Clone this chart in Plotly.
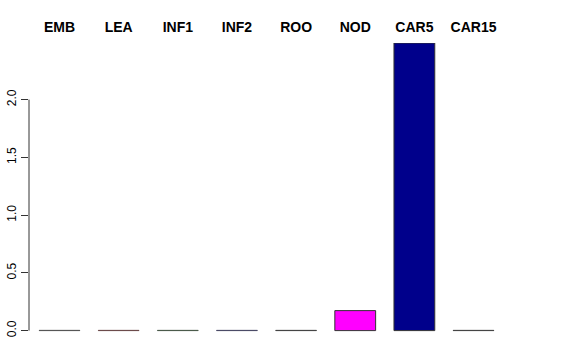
import plotly.graph_objects as go

categories = ["EMB", "LEA", "INF1", "INF2", "ROO", "NOD", "CAR5", "CAR15"]
values = [0.002, 0.002, 0.002, 0.002, 0.002, 0.173, 2.49, 0.002]
fill_colors = ["#555555", "#7a4a4a", "#4a6a4a", "#4a4a7a", "#555555", "#FF00FF", "#00008B", "#555555"]
line_colors = ["#555555", "#6b4a4a", "#4a5a4a", "#4a4a66", "#444444", "#333333", "#333333", "#444444"]
y_ticks = [0.0, 0.5, 1.0, 1.5, 2.0]
y_tick_labels = ["0.0", "0.5", "1.0", "1.5", "2.0"]

fig = go.Figure()
fig.add_trace(go.Bar(
    x=list(range(len(categories))),
    y=values,
    marker=dict(color=fill_colors, line=dict(color=line_colors, width=1)),
    width=0.69,
    hoverinfo="skip",
))

fig.update_layout(
    width=576, height=360,
    margin=dict(l=29, r=67, t=43, b=19),
    plot_bgcolor="white", paper_bgcolor="white",
    showlegend=False,
    font=dict(family="Liberation Sans, Arial, sans-serif", color="black"),
)
fig.update_xaxes(
    range=[-0.516, 7.6],
    side="top",
    automargin=False,
    tickmode="array",
    tickvals=list(range(len(categories))),
    ticktext=["<b>%s</b>" % c for c in categories],
    tickfont=dict(size=14, family="Liberation Sans, Arial, sans-serif", color="black"),
    ticks="outside", ticklen=4, tickcolor="white",
    showline=False, showgrid=False, zeroline=False,
)
fig.update_yaxes(
    range=[-0.09, 2.49],
    automargin=False,
    tickmode="array",
    tickvals=y_ticks,
    ticktext=y_tick_labels,
    tickangle=-90,
    tickfont=dict(size=12, family="Liberation Sans, Arial, sans-serif", color="black"),
    ticks="outside", ticklen=7, tickcolor="#333333", tickwidth=1,
    showline=False, showgrid=False, zeroline=False,
)
fig.add_shape(type="line", xref="paper", yref="y",
              x0=0, x1=0, y0=y_ticks[0], y1=y_ticks[-1],
              line=dict(color="#333333", width=1))

fig.write_html("out.html")
